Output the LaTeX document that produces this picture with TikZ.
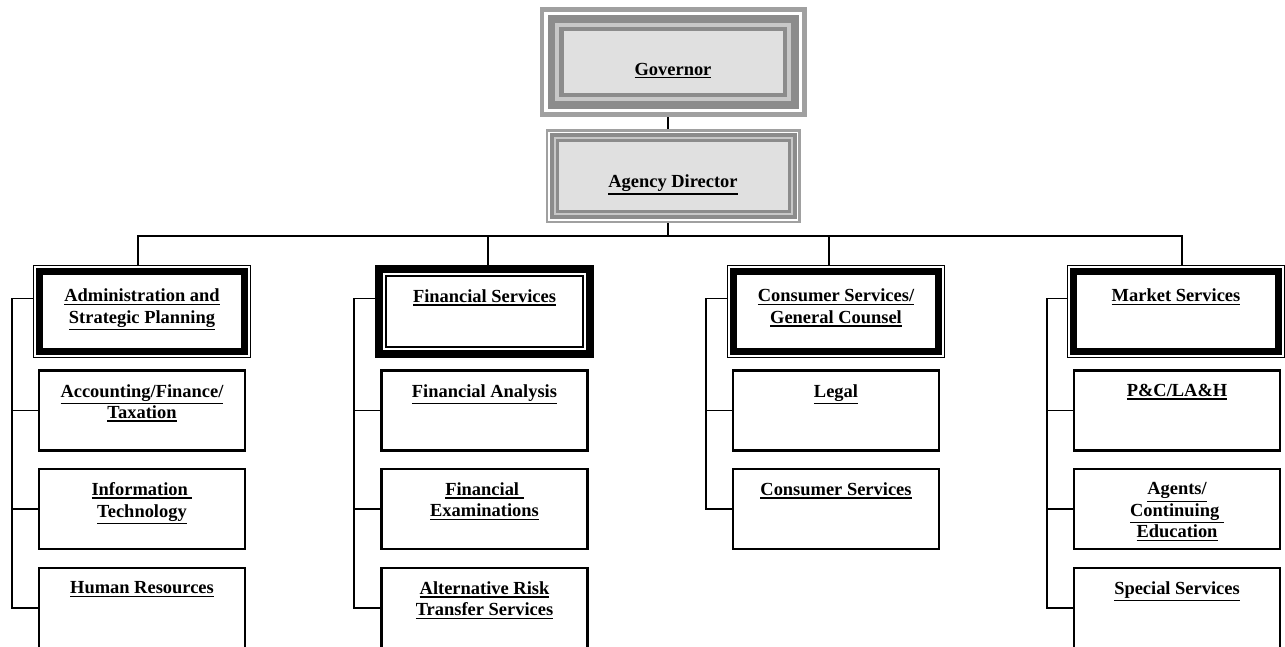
\documentclass[tikz,border=0pt]{standalone}
\usepackage{fontspec}
\setmainfont{Liberation Serif}
\usepackage{xcolor}
\definecolor{frameA}{HTML}{A0A0A0}
\definecolor{frameB}{HTML}{8C8C8C}
\definecolor{frameC}{HTML}{C8C8C8}
\definecolor{panel}{HTML}{E0E0E0}
\usetikzlibrary{positioning,calc}
\newcommand{\upx}{0.02cm}
\newcommand{\ulin}[1]{\setbox0=\hbox{#1}\leavevmode\rlap{\vrule height -\dimexpr\dp0+0.9pt\relax depth \dimexpr\dp0+1.7pt\relax width \wd0}\box0}
\newcommand{\bandfill}[2]{\fill[#2] ([shift={(#1,#1)}]path picture bounding box.north west) rectangle ([shift={(-#1,-#1)}]path picture bounding box.south east);}
\newcommand{\bandline}[2]{\draw[line width=#2] ([shift={(#1,#1)}]path picture bounding box.north west) rectangle ([shift={(-#1,-#1)}]path picture bounding box.south east);}
\tikzset{
  conn/.style={draw=black,line width=1pt},
  ttl/.style={anchor=north,yshift=-#1*\upx,inner sep=0pt,align=center,
    font=\fontsize{10.5}{12.2}\selectfont\bfseries},
  ttl/.default=14.5,
  govbox/.style={rectangle,fill=frameA,inner sep=0pt,minimum width=267*\upx,minimum height=110*\upx,
    path picture={\bandfill{4.7}{white}\bandfill{8}{frameB}\bandfill{15.7}{frameC}\bandfill{19.7}{frameB}\bandfill{24}{panel}}},
  dirbox/.style={rectangle,fill=frameA,inner sep=0pt,minimum width=255*\upx,minimum height=94*\upx,
    path picture={\bandfill{2.5}{white}\bandfill{4}{frameB}\bandfill{8}{frameC}\bandfill{10}{frameB}\bandfill{13}{panel}}},
  deptA/.style={rectangle,draw=black,fill=white,line width=0.85pt,inner sep=0pt,
    minimum width=217*\upx,minimum height=92*\upx,path picture={\bandline{6.3}{4.1pt}}},
  deptB/.style={rectangle,draw=black,fill=white,line width=4.3pt,inner sep=0pt,
    minimum width=211*\upx,minimum height=85*\upx,path picture={\bandline{7}{0.85pt}}},
  unit/.style={rectangle,draw=black,fill=white,line width=1.3pt,inner sep=0pt,
    minimum width=206*\upx,minimum height=80*\upx},
}
\begin{document}
\begin{tikzpicture}[x=\upx,y=-\upx]
  \useasboundingbox (0,0) rectangle (1285,646);
  \clip (0,0) rectangle (1285,646);
  \node[govbox,label={[ttl=56]north:\ulin{Governor}}] (gov) at (673,62) {};
  \node[dirbox,label={[ttl=46]north:\ulin{Agency Director}}] (dir) at (673,176) {};

  \node[deptA,label={[ttl=24]north:{\ulin{Administration and}\\\ulin{Strategic Planning}}}] (adm) at (142,311.5) {};
  \node[deptB,label={[ttl=24]north:\ulin{Financial Services}}] (fin) at (484.5,311.5) {};
  \node[deptA,label={[ttl=24]north:{\ulin{Consumer Services/}\\\ulin{General Counsel}}}] (con) at (836,311.5) {};
  \node[deptA,label={[ttl=24]north:\ulin{Market Services}}] (mkt) at (1176,311.5) {};

  \node[unit,label={[ttl]north:{\ulin{Accounting/Finance/}\\\ulin{Taxation}}}] (acc) at (142,410.5) {};
  \node[unit,label={[ttl]north:{\ulin{Information\ }\\\ulin{Technology}}}] (it) at (142,509) {};
  \node[unit,label={[ttl]north:\ulin{Human Resources}}] (hr) at (142,608) {};

  \node[unit,label={[ttl]north:\ulin{Financial Analysis}}] (fa) at (484.5,410.5) {};
  \node[unit,label={[ttl]north:{\ulin{Financial\ }\\\ulin{Examinations}}}] (fe) at (484.5,509) {};
  \node[unit,label={[ttl]north:{\ulin{Alternative Risk}\\\ulin{Transfer Services}}}] (art) at (484.5,608) {};

  \node[unit,label={[ttl]north:\ulin{Legal}}] (leg) at (836,410.5) {};
  \node[unit,label={[ttl]north:\ulin{Consumer Services}}] (cs) at (836,509) {};

  \node[unit,label={[ttl]north:\ulin{P\&C/LA\&H}}] (pc) at (1177,410.5) {};
  \node[unit,label={[ttl]north:{\ulin{Agents/}\\\ulin{Continuing\ }\\\ulin{Education}}}] (ag) at (1177,509) {};
  \node[unit,label={[ttl]north:\ulin{Special Services}}] (sp) at (1177,608) {};

  \coordinate (hub) at ($(dir.south)+(-5,13)$);
  \draw[conn] (gov.south -| hub) -- (dir.north -| hub);
  \draw[conn] (dir.south -| hub) -- (hub);
  \draw[conn] ([xshift=-4*\upx]adm.north) |- (hub) -| ([xshift=6*\upx]mkt.north);
  \draw[conn] ([xshift=3.5*\upx]fin.north) |- (hub);
  \draw[conn] ([xshift=-7*\upx]con.north) |- (hub);

  \foreach \dep/\lst in {adm/hr,fin/art,con/cs,mkt/sp}
    \draw[conn] ([yshift=13*\upx]\dep.west) -| ([xshift=-26*\upx]\lst.west) -- (\lst.west);
  \foreach \sb in {acc,it,fa,fe,leg,pc,ag}
    \draw[conn] (\sb.west) -- ++(-26,0);
\end{tikzpicture}
\end{document}
